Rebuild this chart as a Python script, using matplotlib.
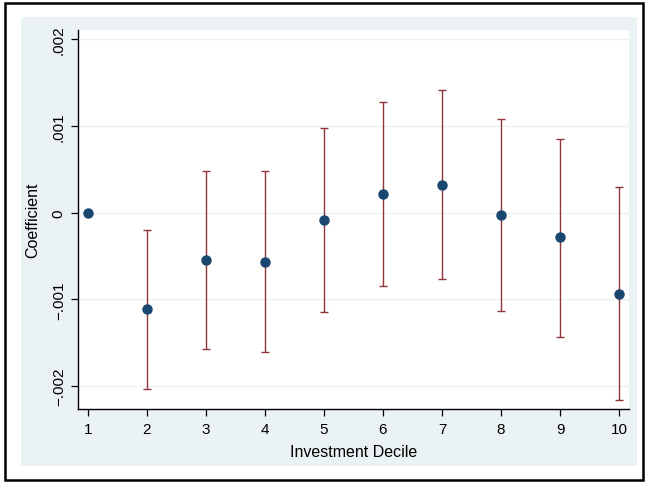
import matplotlib
matplotlib.use("Agg")
import matplotlib.pyplot as plt
from matplotlib.patches import Rectangle

plt.rcParams['font.family'] = ['Liberation Sans', 'DejaVu Sans']

# decile coefficients and 95% CI bounds (decile 1 is the base)
decile = [1, 2, 3, 4, 5, 6, 7, 8, 9, 10]
coef = [0.0, -0.00111, -0.000546, -0.00057, -0.000089, 0.000216, 0.000323, -0.000027, -0.000285, -0.000938]
ci_lo = [0.0, -0.00203, -0.00157, -0.00161, -0.00115, -0.00085, -0.000765, -0.00114, -0.00143, -0.00216]
ci_hi = [0.0, -0.000196, 0.00048, 0.000476, 0.00097, 0.00128, 0.00141, 0.00108, 0.00085, 0.00029]
yticks = [-0.002, -0.001, 0, 0.001, 0.002]
ylabels = ['\u2212.002', '\u2212.001', '0', '.001', '.002']

bg = '#eaf2f3'
navy = '#1a476f'
maroon = '#90353b'

fig = plt.figure(figsize=(6.47, 4.85), dpi=100)
# outer graph region and frame
fig.patches.append(Rectangle((21/647, 1-467/485), (637-21)/647, (467-18)/485,
                             transform=fig.transFigure, facecolor=bg, edgecolor='none', zorder=-2))
fig.patches.append(Rectangle((5/647, 1-481/485), (643-5)/647, (481-4)/485,
                             transform=fig.transFigure, facecolor='none', edgecolor='black',
                             linewidth=1.8, zorder=-1))

ax = fig.add_axes([0.121, 0.1546, 0.8516, 0.7814])
ax.set_zorder(1)
ax.set_facecolor('white')

# CI bars for deciles 2-10
ax.errorbar(decile[1:], coef[1:],
            yerr=[[c - l for c, l in zip(coef[1:], ci_lo[1:])],
                  [h - c for c, h in zip(coef[1:], ci_hi[1:])]],
            fmt='none', ecolor=maroon, elinewidth=1.0, capsize=2.6, capthick=1.0, zorder=2)
ax.plot(decile, coef, 'o', color=navy, markersize=6.5, zorder=3)

ax.set_xlim(0.841, 10.17)
ax.set_ylim(-0.002266, 0.002105)
ax.set_xticks(decile)
ax.set_yticks(yticks)
ax.set_yticklabels(ylabels, rotation=90, va='center')
ax.yaxis.grid(True, color=bg, linewidth=1.0)
ax.set_axisbelow(True)

for s in ['top', 'right']:
    ax.spines[s].set_visible(False)
for s in ['left', 'bottom']:
    ax.spines[s].set_linewidth(1.0)
    ax.spines[s].set_color('black')
ax.tick_params(direction='out', length=5, width=0.9, labelsize=11, pad=4)

ax.set_xlabel('Investment Decile', fontsize=11.5, labelpad=6)
ax.set_ylabel('Coefficient', fontsize=11.5, labelpad=8)

fig.savefig('out.png', dpi=100)
